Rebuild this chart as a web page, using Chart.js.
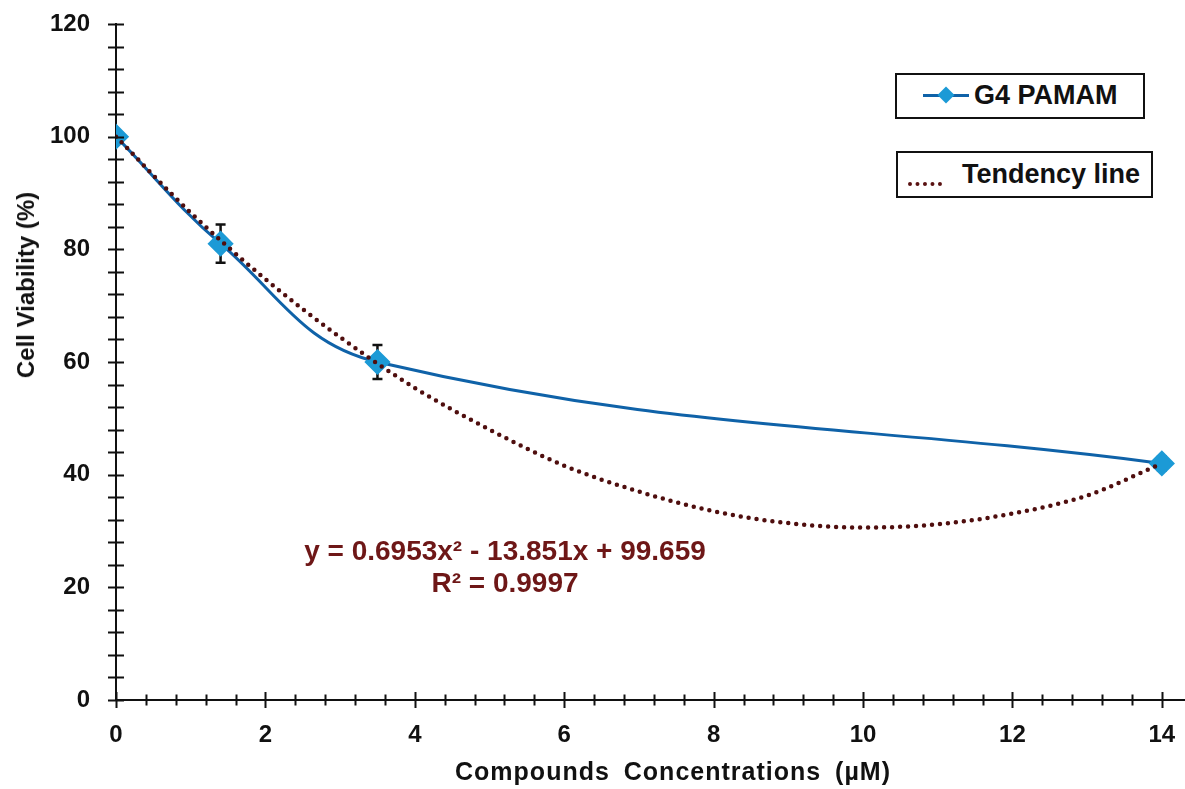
<!DOCTYPE html>
<html>
<head>
<meta charset="utf-8">
<script src="https://cdn.jsdelivr.net/npm/chart.js@4"></script>
<style>
    body { margin: 0; background: #fff; font-family: "Liberation Sans", Arial, sans-serif; }
    #wrap { position: relative; width: 1185px; height: 789px; }
    .box { position: absolute; box-sizing: border-box; border: 2px solid #111; background: #fff; }
    .lbl { position: absolute; font-weight: bold; color: #111; white-space: nowrap; }
    .eq { position: absolute; font-weight: bold; color: #6e1717; white-space: nowrap; font-size: 28px; transform: translateX(-50%); }
</style>
</head>
<body>
<div id="wrap">
    <canvas id="viabilityChart" width="1185" height="789"></canvas>

    <!-- legend boxes -->
    <div class="box" style="left:895px; top:73px; width:250px; height:46px;">
        <div style="position:absolute; left:26px; top:19px; width:46px; height:3px; background:#0f62a8;"></div>
        <div style="position:absolute; left:43px; top:14px; width:12px; height:12px; background:#1c9ad6; transform:rotate(45deg);"></div>
        <div class="lbl" style="left:77px; top:5px; font-size:27px;">G4 PAMAM</div>
    </div>
    <div class="box" style="left:896px; top:151px; width:257px; height:47px;">
        <div style="position:absolute; left:10px; top:29px; width:34px; border-top:4px dotted #5a1212;"></div>
        <div class="lbl" style="left:64px; top:6px; font-size:27px;">Tendency line</div>
    </div>

    <!-- trend equation -->
    <div class="eq" style="left:505px; top:535px;">y = 0.6953x² - 13.851x + 99.659</div>
    <div class="eq" style="left:505px; top:567px;">R² = 0.9997</div>

    <!-- axis titles -->
    <div class="lbl" style="left:673px; top:757px; font-size:25px; letter-spacing:1px; word-spacing:6px; transform:translateX(-50%);">Compounds Concentrations (µM)</div>
    <div class="lbl" style="left:26px; top:285px; font-size:24px; transform:translate(-50%,-50%) rotate(-90deg);">Cell Viability (%)</div>
</div>

<script>
// ====
// Data
// ====
const concentrations = [0, 1.4, 3.5, 14];
const viability = [100, 81, 60, 42];
const viabilityErr = [0, 3.4, 3, 1.2];

// dotted tendency curve
const trendX = [0, 1, 2, 3, 4, 5, 6, 7, 8, 9, 10, 11, 12, 13, 14];
const trendY = [100, 86.5, 74.7, 64.4, 55.4, 48.0, 41.6, 37.0, 33.5, 31.4, 30.6, 31.2, 33.1, 36.3, 42.0];

const yTicks = [];
for (let v = 0; v <= 120; v += 4) yTicks.push(v);
const xTicks = [];
for (let i = 0; i <= 35; i++) xTicks.push(Math.round(i * 4) / 10);

const tickFont = { family: '"Liberation Sans", Arial, sans-serif', size: 24, weight: 'bold' };

function isMajorX(v) {
    return Math.abs(v - Math.round(v)) < 1e-6 && Math.round(v) % 2 === 0;
}

// error bars under the markers
const errorBarPlugin = {
    id: 'errorBars',
    beforeDatasetsDraw(chart) {
        const ctx = chart.ctx;
        const xs = chart.scales.x, ys = chart.scales.y;
        ctx.save();
        ctx.strokeStyle = '#111';
        ctx.lineWidth = 2.5;
        concentrations.forEach((c, i) => {
            if (!viabilityErr[i]) return;
            const px = xs.getPixelForValue(c);
            const top = ys.getPixelForValue(viability[i] + viabilityErr[i]);
            const bot = ys.getPixelForValue(viability[i] - viabilityErr[i]);
            ctx.beginPath();
            ctx.moveTo(px, top); ctx.lineTo(px, bot);
            ctx.moveTo(px - 5, top); ctx.lineTo(px + 5, top);
            ctx.moveTo(px - 5, bot); ctx.lineTo(px + 5, bot);
            ctx.stroke();
        });
        ctx.restore();
    }
};

// tick marks that cross the axis lines
const crossTicksPlugin = {
    id: 'crossTicks',
    afterDraw(chart) {
        const ctx = chart.ctx;
        const xs = chart.scales.x, ys = chart.scales.y;
        const x0 = xs.getPixelForValue(0);
        const y0 = ys.getPixelForValue(0);
        ctx.save();
        ctx.strokeStyle = '#111';
        ctx.lineWidth = 2;
        ctx.beginPath();
        yTicks.forEach(v => {
            const py = Math.round(ys.getPixelForValue(v)) + 0.5;
            ctx.moveTo(x0 - 8, py); ctx.lineTo(x0 + 8, py);
        });
        xTicks.forEach(v => {
            const px = Math.round(xs.getPixelForValue(v)) + 0.5;
            const len = isMajorX(v) ? 8 : 5.5;
            ctx.moveTo(px, y0 - len); ctx.lineTo(px, y0 + len);
        });
        ctx.stroke();
        ctx.restore();
    }
};

const ctx = document.getElementById('viabilityChart').getContext('2d');
new Chart(ctx, {
    type: 'line',
    data: {
        datasets: [
            {
                label: 'Tendency line',
                data: trendX.map((x, i) => ({ x, y: trendY[i] })),
                borderColor: '#4f0e0e',
                borderWidth: 4.5,
                borderDash: [0, 8],
                borderCapStyle: 'round',
                pointRadius: 0,
                cubicInterpolationMode: 'monotone',
                order: 0
            },
            {
                label: 'G4 PAMAM',
                data: concentrations.map((x, i) => ({ x, y: viability[i] })),
                borderColor: '#0f62a8',
                borderWidth: 3,
                tension: 0.4,
                pointStyle: 'rectRot',
                pointRadius: 11,
                pointBackgroundColor: '#1c9ad6',
                pointBorderColor: '#1c9ad6',
                order: 1
            }
        ]
    },
    options: {
        responsive: false,
        animation: false,
        layout: { autoPadding: false, padding: { top: 24, right: 0, left: 0, bottom: 0 } },
        plugins: {
            legend: { display: false },
            tooltip: { enabled: false }
        },
        scales: {
            x: {
                type: 'linear',
                min: 0,
                max: 14.31,
                afterBuildTicks: scale => { scale.ticks = xTicks.map(v => ({ value: v })); },
                afterFit: scale => {
                    scale.height = 89;
                    scale.paddingLeft = 0;
                    scale.paddingRight = 0;
                },
                grid: { display: false, drawTicks: false },
                border: { display: true, color: '#111', width: 2 },
                ticks: {
                    autoSkip: false,
                    maxRotation: 0,
                    padding: 21,
                    color: '#111',
                    font: tickFont,
                    callback: v => isMajorX(v) ? String(Math.round(v)) : ''
                }
            },
            y: {
                min: 0,
                max: 120,
                afterBuildTicks: scale => { scale.ticks = yTicks.map(v => ({ value: v })); },
                afterFit: scale => {
                    scale.width = 116;
                    scale.paddingTop = 0;
                    scale.paddingBottom = 0;
                },
                grid: { display: false, drawTicks: false },
                border: { display: true, color: '#111', width: 2 },
                ticks: {
                    autoSkip: false,
                    padding: 26,
                    color: '#111',
                    font: tickFont,
                    callback: v => (v % 20 === 0 ? String(v) : '')
                }
            }
        }
    },
    plugins: [errorBarPlugin, crossTicksPlugin]
});
</script>
</body>
</html>
